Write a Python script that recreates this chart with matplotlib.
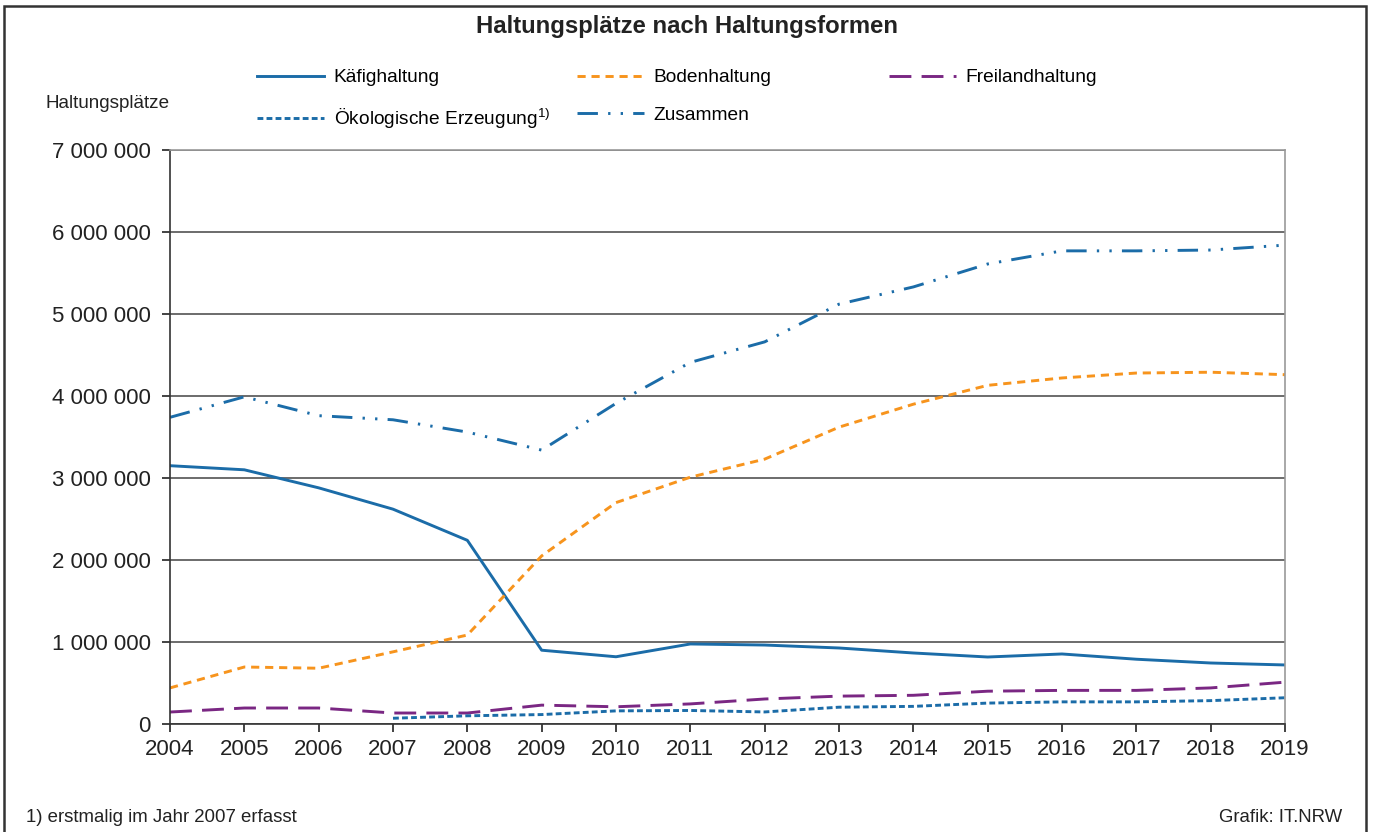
import matplotlib
matplotlib.use("Agg")
import matplotlib.pyplot as plt
from matplotlib.patches import Rectangle
from matplotlib.ticker import FuncFormatter

plt.rcParams['font.family'] = ['Liberation Sans', 'DejaVu Sans']
plt.rcParams['mathtext.default'] = 'regular'

# Daten
years = list(range(2004, 2020))
kaefig = [3150000, 3100000, 2880000, 2620000, 2240000, 900000, 820000, 976000,
          963000, 927000, 866000, 817000, 854000, 790000, 744000, 720000]
boden = [440000, 695000, 680000, 880000, 1085000, 2050000, 2700000, 3010000,
         3230000, 3620000, 3900000, 4130000, 4220000, 4280000, 4290000, 4260000]
freiland = [146000, 195000, 195000, 134000, 134000, 230000, 210000, 245000,
            305000, 340000, 350000, 400000, 410000, 410000, 440000, 510000]
oeko_years = list(range(2007, 2020))
oeko = [70000, 100000, 115000, 160000, 165000, 147000, 205000, 215000,
        255000, 270000, 270000, 285000, 320000]
zusammen = [3740000, 3990000, 3760000, 3710000, 3560000, 3340000, 3910000, 4410000,
            4660000, 5120000, 5330000, 5610000, 5770000, 5770000, 5780000, 5840000]

BLUE = "#1b6ca8"
ORANGE = "#f7941d"
PURPLE = "#7a2783"

fig = plt.figure(figsize=(13.73, 8.32), dpi=100)
ax = fig.add_axes([170 / 1373, 1 - 724 / 832, 1115 / 1373, 574 / 832])

lw = 2.1
l1, = ax.plot(years, kaefig, color=BLUE, lw=lw, label="Käfighaltung")
l2, = ax.plot(years, boden, color=ORANGE, lw=lw, linestyle=(0, (2.8, 2.0)), label="Bodenhaltung")
l3, = ax.plot(years, freiland, color=PURPLE, lw=lw, linestyle=(0, (7.5, 3.5)), label="Freilandhaltung")
l4, = ax.plot(oeko_years, oeko, color=BLUE, lw=lw, linestyle=(0, (2.0, 1.1)),
              label="Ökologische Erzeugung$^{1)}$")
l5, = ax.plot(years, zusammen, color=BLUE, lw=lw, linestyle=(0, (7, 3.5, 0.8, 3.5, 0.8, 3.5)),
              label="Zusammen")

ax.set_xlim(2004, 2019)
ax.set_ylim(0, 7000000)
ax.set_xticks(years)
ax.set_yticks(range(0, 7000001, 1000000))
ax.yaxis.set_major_formatter(FuncFormatter(lambda v, p: f"{int(v):,}".replace(",", " ")))
ax.tick_params(axis="both", labelsize=16, colors="#222222", length=6, width=1.2, direction="out")
ax.tick_params(axis="x", pad=5)
ax.tick_params(axis="y", pad=8)
ax.grid(axis="y", color="#444444", lw=1.1)
ax.set_axisbelow(True)
for s in ["top", "right"]:
    ax.spines[s].set_color("#999999")
    ax.spines[s].set_linewidth(1.2)
for s in ["left", "bottom"]:
    ax.spines[s].set_color("#333333")
    ax.spines[s].set_linewidth(1.2)

# Legende in drei Spalten
leg_kw = dict(frameon=False, fontsize=13.8, handlelength=3.5, handletextpad=0.5,
              labelspacing=1.05, borderpad=0, borderaxespad=0, loc="upper left")
top = 1 - 69 / 832
fig.legend(handles=[l1, l4], bbox_to_anchor=(257 / 1373, top), **leg_kw)
fig.legend(handles=[l2, l5], bbox_to_anchor=(577 / 1373, top), **leg_kw)
fig.legend(handles=[l3], bbox_to_anchor=(889 / 1373, top), **leg_kw)

fig.text(0.5, 1 - 26 / 832, "Haltungsplätze nach Haltungsformen", ha="center", va="center",
         fontsize=17.2, fontweight="bold", color="#222222")
fig.text(46 / 1373, 1 - 103 / 832, "Haltungsplätze", ha="left", va="center",
         fontsize=13.6, color="#222222")
fig.text(26 / 1373, 1 - 818 / 832, "1) erstmalig im Jahr 2007 erfasst", ha="left", va="center",
         fontsize=13.4, color="#222222")
fig.text(1342 / 1373, 1 - 817 / 832, "Grafik: IT.NRW", ha="right", va="center",
         fontsize=13.4, color="#222222")

fig.patches.append(Rectangle((4 / 1373, -0.01), 1362 / 1373, 1 - 6 / 832 + 0.01,
                             transform=fig.transFigure, fill=False, ec="#333333", lw=1.8))

fig.savefig("out.png", dpi=100)
